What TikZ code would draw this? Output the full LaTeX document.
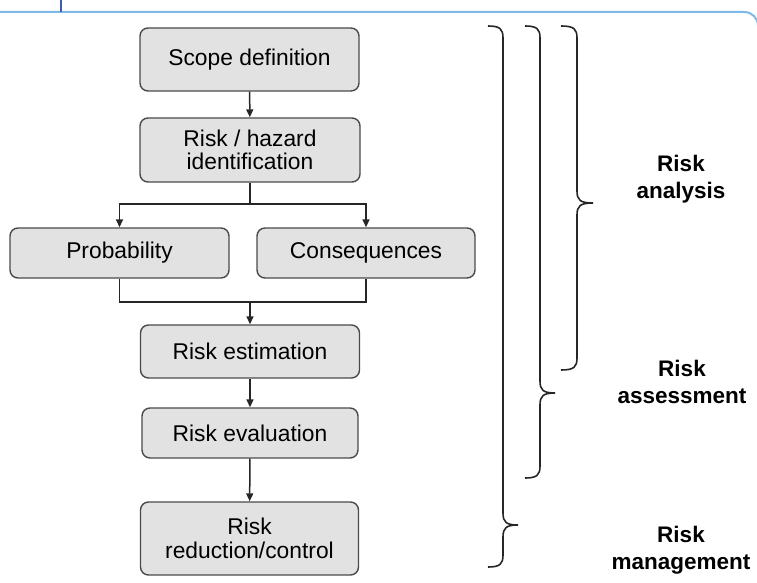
\documentclass[tikz,border=0pt]{standalone}
\usepackage{fontspec}
\setmainfont{Liberation Sans}
\usetikzlibrary{arrows.meta}
\definecolor{boxfill}{HTML}{E2E2E2}
\definecolor{boxline}{HTML}{4A4A4A}
\definecolor{lineclr}{HTML}{262626}
\definecolor{frameblue}{HTML}{7DB8E6}
\definecolor{markblue}{HTML}{3A5DB0}
\newcommand\riskbrace[5]{%
  \draw[brace] (#1-#5,#2) .. controls (#1-3,#2) and (#1,#2+3) .. (#1,#2+12)
    -- (#1,#3-12) .. controls (#1,#3-3) and (#1+3,#3) .. (#1+#5,#3)
    .. controls (#1+3,#3) and (#1,#3+3) .. (#1,#3+12)
    -- (#1,#4-12) .. controls (#1,#4-3) and (#1-3,#4) .. (#1-#5,#4);}
\begin{document}
\begin{tikzpicture}[x=1pt,y=-1pt,
  stepbox/.style={draw=boxline, line width=1.4pt, fill=boxfill, rounded corners=8pt,
    align=center, inner sep=0pt, font=\fontsize{22.8}{23.5}\selectfont},
  conn/.style={draw=lineclr, line width=1.5pt},
  arr/.style={conn, -{Triangle[length=8pt,width=7pt]}},
  brace/.style={draw=lineclr, line width=1.6pt},
  lab/.style={align=center, inner sep=0pt, anchor=north,
    font=\fontsize{22.5}{27}\selectfont\bfseries}]
\useasboundingbox (0,0) rectangle (757,583);
% top frame
\draw[frameblue, line width=2pt] (0,12) -- (744,12) .. controls (752,12) and (758,18) .. (758,26);
\draw[markblue, line width=2pt] (61,0) -- (61,12);
% boxes
\node[stepbox, minimum width=219pt, minimum height=63pt] (scope) at (249.5,59.5) {Scope definition};
\node[stepbox, minimum width=220pt, minimum height=64pt] (ident) at (250,150) {Risk / hazard\\identification};
\node[stepbox, minimum width=219pt, minimum height=50pt] (prob) at (119.5,253) {Probability};
\node[stepbox, minimum width=218pt, minimum height=50pt] (cons) at (366,253) {Consequences};
\node[stepbox, minimum width=219pt, minimum height=53pt] (est) at (250,351.5) {Risk estimation};
\node[stepbox, minimum width=216pt, minimum height=50pt] (eval) at (250,433) {Risk evaluation};
\node[stepbox, minimum width=218pt, minimum height=73pt] (red) at (249.5,538.5) {Risk\\reduction/control};
% connectors
\coordinate (split) at (250,204);
\coordinate (merge) at (250,302);
\draw[arr] (scope) -- (ident);
\draw[conn] (ident.south) -- (split);
\draw[arr] (split) -| (prob.north);
\draw[arr] (split) -| (cons.north);
\draw[conn] (prob.south) |- (merge) -| (cons.south);
\draw[arr] (merge) -- (est.north);
\draw[arr] (est) -- (eval);
\draw[arr] (eval) -- (red);
% braces
\riskbrace{503}{26}{525}{567}{15}
\riskbrace{540}{26}{393}{478}{15}
\riskbrace{577}{26}{203}{370}{16}
% labels
\node[lab] (lanal) at (681,155) {Risk\\analysis};
\node[lab] (lasse) at (682,360) {Risk\\assessment};
\node[lab] (lmana) at (681,526) {Risk\\management};
\end{tikzpicture}
\end{document}
